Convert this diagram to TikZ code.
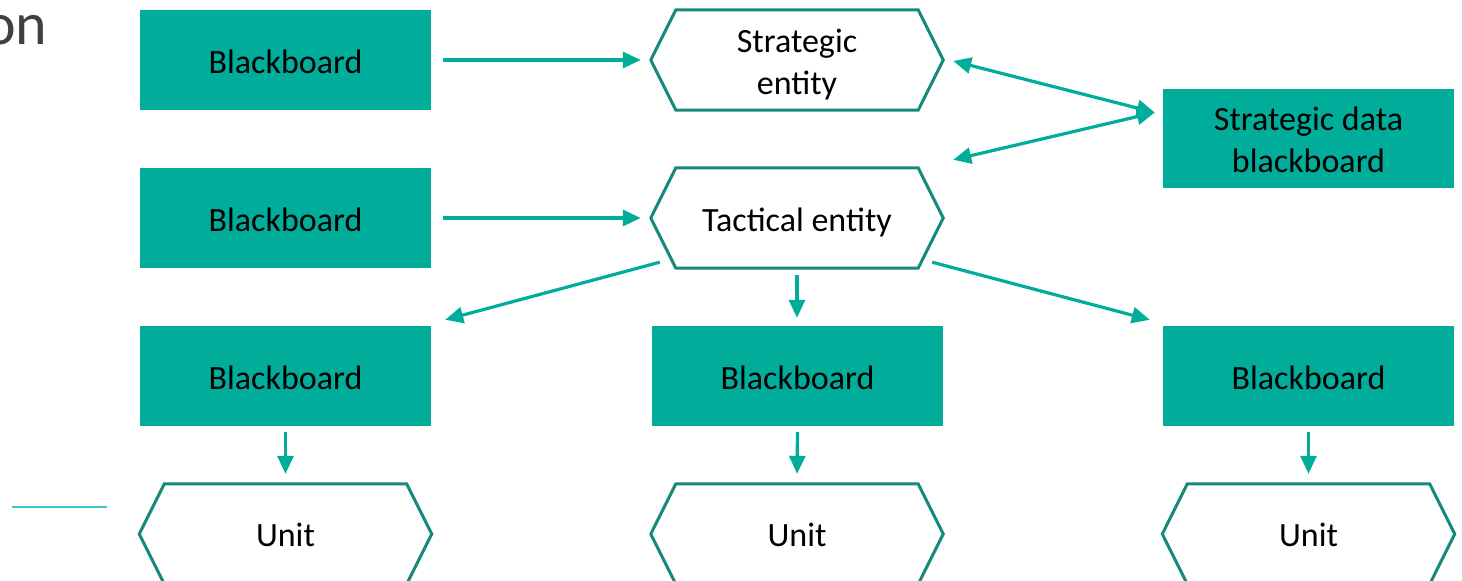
\documentclass[tikz,border=0pt]{standalone}
\usepackage{fontspec}
\setmainfont{Carlito}
\usepackage{tikz}
\usetikzlibrary{arrows.meta,calc,positioning}
\definecolor{bbteal}{HTML}{00AD9A}
\definecolor{hexteal}{HTML}{15897B}
\definecolor{rulecyan}{HTML}{3CC6CF}
\tikzset{%
	board/.style  = {rectangle, fill=bbteal, minimum width=291pt, minimum height=100pt, align=center, inner sep=0pt, text height=28pt, font=\fontsize{34}{42}\selectfont},
	entity/.style = {rectangle, minimum width=292pt, minimum height=100pt, align=center, inner sep=0pt, text height=26pt, font=\fontsize{34}{42}\selectfont},
	hexline/.style= {draw=hexteal, line width=3pt, line join=miter},
	link/.style   = {draw=bbteal, line width=3.2pt, -{Triangle[length=18pt,width=16pt]}},
	twolink/.style= {draw=bbteal, line width=3.2pt, {Triangle[length=18pt,width=16pt]}-{Triangle[length=18pt,width=16pt]}},
}
\begin{document}
\begin{tikzpicture}[x=1pt,y=-1pt]
	\useasboundingbox (0,0) rectangle (1462,581);
	
	\node[anchor=base east, text=black!75, font=\fontsize{60}{60}\selectfont] (title) at (51,44) {on};
	\draw[rulecyan, line width=2pt] (12,507) -- (107,507);
	
	% first two rows
	\node[board] (bbtop) at (285.5,60) {Blackboard};
	\node[entity, text height=74pt] (strat) at (797,60) {Strategic\\entity};
	\node[board, minimum height=99pt, text height=69pt] (sdata) at (1308.5,138.5) {Strategic data\\blackboard};
	\node[board] (bbmid) at (285.5,218) {Blackboard};
	\node[entity, text height=32pt] (tact) at (797,218) {Tactical entity};
	
	% blackboards and units
	\node[board] (bbL) at (285.5,376) {Blackboard};
	\node[board] (bbM) at (797.5,376) {Blackboard};
	\node[board] (bbR) at (1308.5,376) {Blackboard};
	\node[entity] (unitL) at (285.5,534) {Unit};
	\node[entity] (unitM) at (797,534) {Unit};
	\node[entity] (unitR) at (1308.5,534) {Unit};
	
	% hexagon outlines
	\foreach \n in {strat,tact,unitL,unitM,unitR}
		\draw[hexline] ($(\n.north west)+(25,0)$) -- ($(\n.north east)+(-25,0)$) -- (\n.east)
			-- ($(\n.south east)+(-25,0)$) -- ($(\n.south west)+(25,0)$) -- (\n.west) -- cycle;
	
	\draw[link, shorten <=12pt, shorten >=10pt] (bbtop.east) -- (strat.west);
	\draw[link, shorten <=12pt, shorten >=10pt] (bbmid.east) -- (tact.west);
	
	\coordinate (hub) at ($(sdata.west)+(-8,-26)$);
	\coordinate (stratR) at ($(strat.east)+(10,1)$);
	\coordinate (tactR) at ($(tact.north east)+(10,-8)$);
	\draw[twolink] (stratR) -- (hub);
	\draw[twolink] (tactR) -- (hub);
	
	\coordinate (tactSW) at ($(tact.south west)+(9,-6)$);
	\coordinate (tactSE) at ($(tact.south east)+(-11,-6)$);
	\coordinate (bbLin) at ($(bbL.north east)+(14,-6)$);
	\coordinate (bbRin) at ($(bbR.north west)+(-13,-6)$);
	\draw[link] (tactSW) -- (bbLin);
	\draw[link, shorten <=7pt, shorten >=8pt] (tact.south) -- (bbM.north -| tact.south);
	\draw[link] (tactSE) -- (bbRin);
	
	\foreach \b/\u in {bbL/unitL,bbM/unitM,bbR/unitR}
		\draw[link, shorten <=6pt, shorten >=10pt] (\b.south) -- (\u.north);
\end{tikzpicture}
\end{document}
